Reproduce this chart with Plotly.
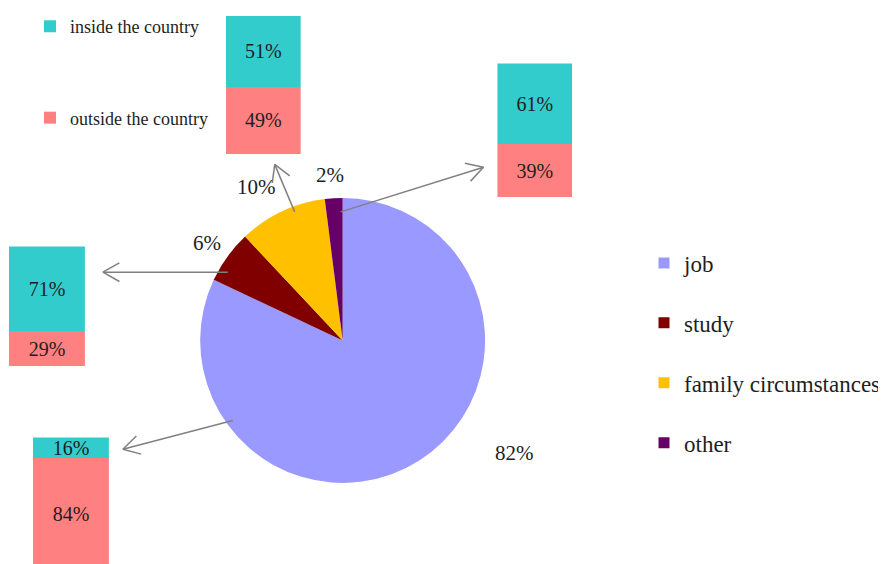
import math
import plotly.graph_objects as go

OFF = 8  # page body margin of the generated html
W, H = 886 - OFF, 564 - OFF  # figure sized to fit the window without scrolling

# ---- data ----
reasons = ["job", "study", "family circumstances", "other"]
shares = [82, 6, 10, 2]
pie_colors = ["#9999FF", "#800000", "#FFC000", "#660066"]

bar_names = ["inside the country", "outside the country"]
bar_colors = ["#33CCCC", "#FF8080"]
bar_reason = ["family circumstances", "other", "study", "job"]
inside = [51, 61, 71, 16]
outside = [49, 39, 29, 84]

FONT = "Liberation Serif, Times New Roman, serif"
TXT = "#1e1e1e"

def px(x):
    return (x - OFF) / W

def py(y):
    return 1 - (y - OFF) / H

# ---- layout geometry (page pixels) ----
pie_cx, pie_cy, pie_r = 343, 338, 144
pct_pos = {"job": (515, 452), "study": (207, 240),
           "family circumstances": (257, 183), "other": (330, 171)}
# bar boxes: left, right, top, bottom (bottom extends below the page)
bar_box = {"family circumstances": (226, 301, 10, 150),
           "other": (498, 573, 58, 193),
           "study": (9, 85, 243, 364),
           "job": (33, 109, 436, 570)}
arrows = {"family circumstances": ((295, 208), (275, 160)),
          "other": ((341, 208), (484, 163)),
          "study": ((228, 269), (103, 269)),
          "job": ((233, 419), (123, 448))}

fig = go.Figure()

fig.add_trace(go.Pie(
    labels=reasons, values=shares, sort=False, direction="clockwise",
    rotation=0, textinfo="none", hoverinfo="skip", showlegend=False,
    marker=dict(colors=pie_colors, line=dict(width=0)),
    domain=dict(x=[px(pie_cx - pie_r), px(pie_cx + pie_r)],
                y=[py(pie_cy + pie_r), py(pie_cy - pie_r)]),
))

layout_axes = {}
for i, reason in enumerate(bar_reason):
    l, r, t, b = bar_box[reason]
    n = i + 1
    xa = "x" if n == 1 else f"x{n}"
    ya = "y" if n == 1 else f"y{n}"
    total = b - t
    vis_bottom = min(b, H + OFF)
    lo = 100 * (b - vis_bottom) / total
    for name, color, vals in [(bar_names[1], bar_colors[1], outside),
                              (bar_names[0], bar_colors[0], inside)]:
        fig.add_trace(go.Bar(
            x=["s"], y=[vals[i]], name=name, marker=dict(color=color, line=dict(width=0)),
            xaxis=xa, yaxis=ya, width=1,
            text=[f"{vals[i]}%"], textposition="inside", insidetextanchor="middle",
            textangle=0, constraintext="none",
            textfont=dict(family=FONT, size=20, color=TXT),
            showlegend=(i == 0), legend="legend2", legendgroup=name,
            legendrank=1 if name == bar_names[0] else 2,
            hoverinfo="skip", cliponaxis=True,
        ))
    kx = "xaxis" if n == 1 else f"xaxis{n}"
    ky = "yaxis" if n == 1 else f"yaxis{n}"
    layout_axes[kx] = dict(domain=[px(l), px(r)], range=[-0.5, 0.5], visible=False,
                           anchor=ya, fixedrange=True)
    layout_axes[ky] = dict(domain=[py(vis_bottom), py(t)], range=[lo, 100], visible=False,
                           anchor=xa, fixedrange=True)

# legend entries for pie categories (dummy traces on a hidden axis)
for lab, col in zip(reasons, pie_colors):
    fig.add_trace(go.Scatter(
        x=[None], y=[None], mode="markers", name=lab,
        marker=dict(symbol="square", size=11, color=col),
        xaxis="x5", yaxis="y5", legend="legend", legendgroup=lab, hoverinfo="skip",
    ))
layout_axes["xaxis5"] = dict(domain=[0.9, 0.91], visible=False, anchor="y5")
layout_axes["yaxis5"] = dict(domain=[0.9, 0.91], visible=False, anchor="x5")

annotations = []
for lab, v in zip(reasons, shares):
    x, y = pct_pos[lab]
    annotations.append(dict(x=px(x), y=py(y), xref="paper", yref="paper",
                            xanchor="center", yanchor="middle",
                            text=f"{v}%", showarrow=False,
                            font=dict(family=FONT, size=21, color=TXT)))

shapes = []
ACOL = "#808080"
for lab in reasons:
    (x0, y0), (x1, y1) = arrows[lab]
    shapes.append(dict(type="line", xref="paper", yref="paper",
                       x0=px(x0), y0=py(y0), x1=px(x1), y1=py(y1),
                       line=dict(color=ACOL, width=1.5)))
    ang = math.atan2(y0 - y1, x0 - x1)
    for d in (-0.52, 0.52):
        hx = x1 + 19 * math.cos(ang + d)
        hy = y1 + 19 * math.sin(ang + d)
        shapes.append(dict(type="line", xref="paper", yref="paper",
                           x0=px(x1), y0=py(y1), x1=px(hx), y1=py(hy),
                           line=dict(color=ACOL, width=1.5)))

fig.update_layout(
    width=W, height=H,
    margin=dict(l=0, r=0, t=0, b=0),
    paper_bgcolor="white", plot_bgcolor="white",
    barmode="stack", bargap=0,
    showlegend=True,
    legend=dict(x=px(645), y=py(238), xanchor="left", yanchor="top",
                font=dict(family=FONT, size=23, color=TXT),
                tracegroupgap=27, bgcolor="rgba(0,0,0,0)", itemclick=False,
                itemdoubleclick=False),
    legend2=dict(x=px(30), y=py(2), xanchor="left", yanchor="top",
                 font=dict(family=FONT, size=18, color=TXT),
                 tracegroupgap=65, bgcolor="rgba(0,0,0,0)", itemclick=False,
                 itemdoubleclick=False),
    annotations=annotations,
    shapes=shapes,
    **layout_axes,
)

fig.write_html("out.html")
